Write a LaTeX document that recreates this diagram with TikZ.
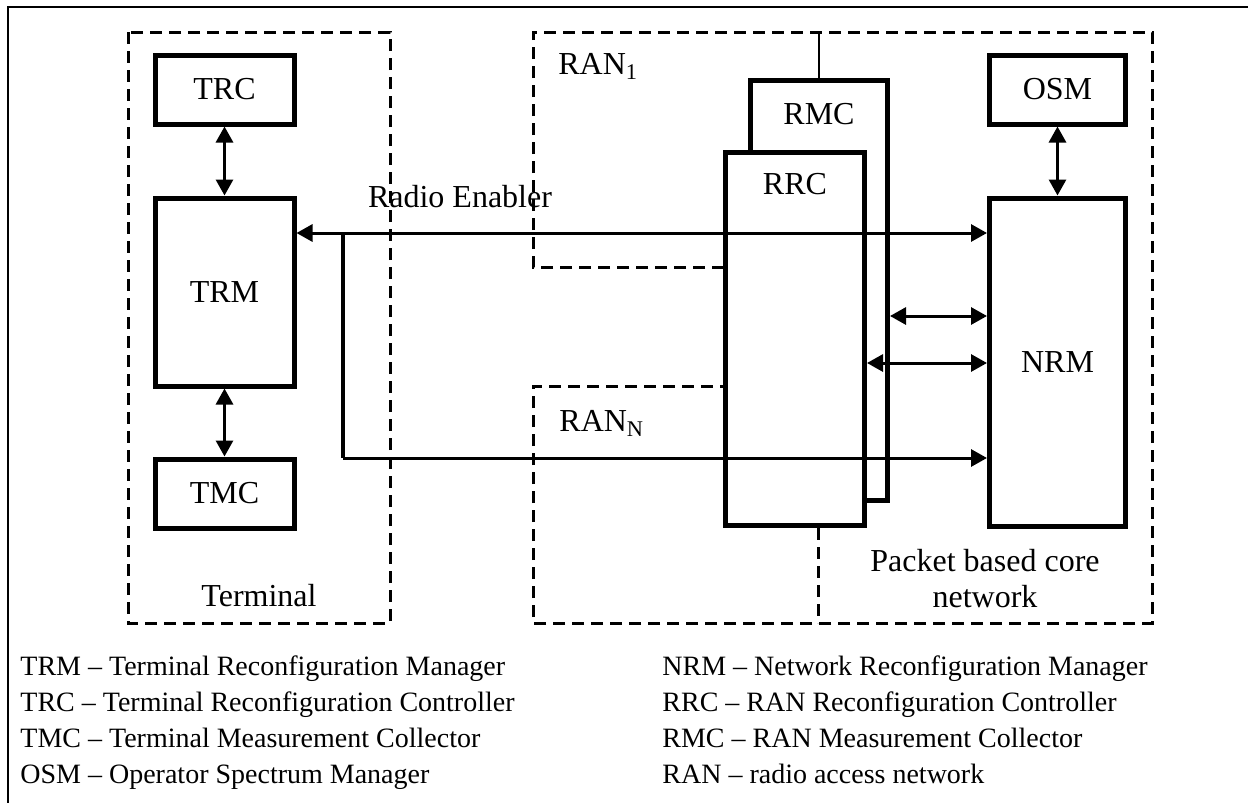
\documentclass[tikz,border=0pt]{standalone}
\usepackage{fontspec}
\setmainfont{Liberation Serif}
\usetikzlibrary{arrows.meta}

\begin{document}
\begin{tikzpicture}[x=0.5pt, y=-0.5pt,
  >={Triangle[length=8pt, width=8.5pt]},
  box/.style={draw, line width=2.5pt, minimum width=69.5pt, inner sep=0pt,
              font=\fontsize{16}{18}\selectfont},
  link/.style={<->, line width=1.5pt},
  region/.style={line width=1.5pt, dash pattern=on 6pt off 3.5pt},
  tag/.style={inner sep=0pt, font=\fontsize{16}{18}\selectfont},
  legend/.style={inner sep=0pt, align=left, anchor=north west,
                 font=\fontsize{14}{18}\selectfont}]
  \useasboundingbox (0,0) rectangle (1248,803);
  \draw[line width=1.3pt] (8,803) -- (8,7) -- (1248,7);

  % dashed domains
  \draw[region] (128,32) rectangle (390,623);
  \draw[region] (724,267) -- (533,267) -- (533,32) -- (1152,32) -- (1152,623)
    -- (533,623) -- (533,386) -- (724,386);
  \draw[region] (818,528) -- (818,623);

  % managers and controllers
  \node[box, minimum height=34.5pt] (trc) at (224.5,89.5) {TRC};
  \node[box, minimum height=94pt] (trm) at (224.5,292) {TRM};
  \node[box, minimum height=34.5pt] (tmc) at (224.5,493.5) {TMC};
  \node[box, minimum width=68pt, minimum height=34.5pt] (osm) at (1057.5,89.5) {OSM};
  \node[box, minimum width=68pt, minimum height=164pt] (nrm) at (1057.5,362) {NRM};
  \node[box, minimum width=68.5pt, minimum height=210pt,
        label={[tag, anchor=north, yshift=-12.5pt]north:RMC}] (rmc) at (819,290.5) {};
  \node[box, fill=white, minimum height=186.5pt,
        label={[tag, anchor=north, yshift=-11.5pt]north:RRC}] (rrc) at (795,339) {};

  \coordinate (rtop) at (819,32);
  \coordinate (fork) at (343,233);
  \coordinate (lowfork) at (343,458);
  \coordinate (mlink) at (900,316);
  \coordinate (rlink) at (900,363);

  \draw[line width=1.3pt] (rmc.north) -- (rtop);
  \draw[link] (trc) -- (trm);
  \draw[link] (trm) -- (tmc);
  \draw[link] (osm) -- (nrm);
  \draw[link] (fork -| trm.east) -- (fork -| nrm.west);
  \draw[line width=2.2pt] (fork) -- (lowfork);
  \draw[->, line width=1.5pt] (lowfork) -- (lowfork -| nrm.west);
  \draw[link] (mlink -| rmc.east) -- (mlink -| nrm.west);
  \draw[link] (rlink -| rrc.east) -- (rlink -| nrm.west);

  \node[tag] (enabler) at (460,197) {Radio Enabler};
  \node[tag, anchor=base west] (ran1) at (558,74) {RAN\textsubscript{1}};
  \node[tag, anchor=base west] (rann) at (559,431) {RAN\textsubscript{N}};
  \node[tag, anchor=base] (term) at (259,606) {Terminal};
  \node[tag, align=center] (core) at (985,579) {Packet based core\\network};

  % key
  \node[legend] (keyl) at (20,655) {TRM -- Terminal Reconfiguration Manager\\
    TRC -- Terminal Reconfiguration Controller\\
    TMC -- Terminal Measurement Collector\\
    OSM -- Operator Spectrum Manager};
  \node[legend] (keyr) at (662,655) {NRM -- Network Reconfiguration Manager\\
    RRC -- RAN Reconfiguration Controller\\
    RMC -- RAN Measurement Collector\\
    RAN -- radio access network};
\end{tikzpicture}
\end{document}
